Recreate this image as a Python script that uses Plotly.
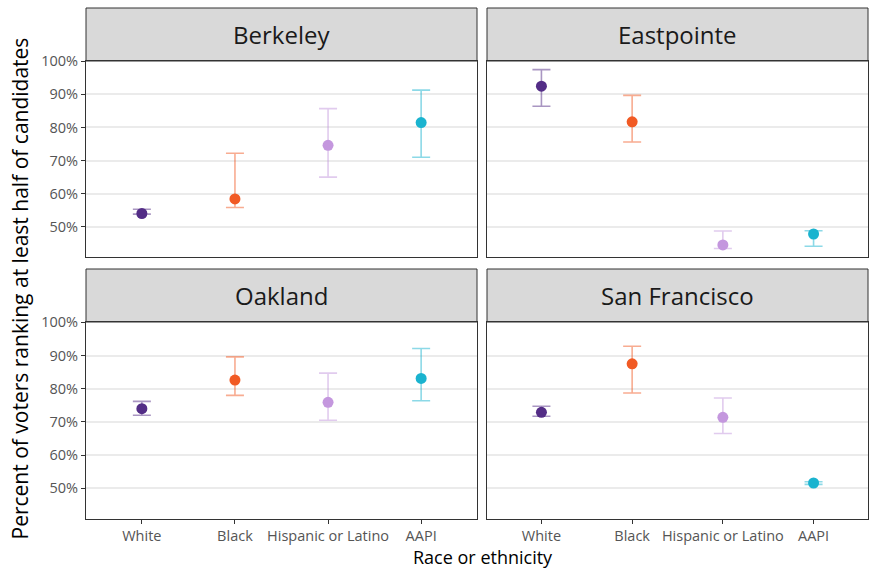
import plotly.graph_objects as go

# Survey estimates with confidence intervals, by city and race/ethnicity (percent)
cities = ["Berkeley", "Eastpointe", "Oakland", "San Francisco"]
races = ["White", "Black", "Hispanic or Latino", "AAPI"]

estimate = {
    "Berkeley":      [54.0, 58.4, 74.6, 81.5],
    "Eastpointe":    [92.5, 81.7, 44.5, 47.8],
    "Oakland":       [74.0, 82.6, 75.9, 83.1],
    "San Francisco": [72.9, 87.5, 71.4, 51.6],
}
lower = {
    "Berkeley":      [53.8, 55.8, 65.0, 71.0],
    "Eastpointe":    [86.4, 75.6, 43.4, 44.1],
    "Oakland":       [72.0, 78.0, 70.5, 76.4],
    "San Francisco": [71.7, 78.7, 66.5, 51.2],
}
upper = {
    "Berkeley":      [55.3, 72.2, 85.7, 91.3],
    "Eastpointe":    [97.5, 89.7, 48.7, 48.8],
    "Oakland":       [76.2, 89.6, 84.7, 92.1],
    "San Francisco": [74.7, 92.8, 77.2, 52.0],
}
y_ticks = [50, 60, 70, 80, 90, 100]

point_colors = ["#532D86", "#F15A24", "#C497DE", "#1AB3CF"]
bar_colors = ["rgba(83,45,134,0.5)", "rgba(241,90,36,0.5)",
              "rgba(196,151,222,0.5)", "rgba(26,179,207,0.5)"]

FONT = "Open Sans, Lato, sans-serif"
W, H = 870, 569

# panel geometry in pixels: (x0, x1, y_top, y_bottom)
col_x = [(86, 477), (487, 868)]
row_y = [(61, 257), (322, 518.7)]
strip_h = 53

fig = go.Figure()
layout = {}
shapes = []
annotations = []

for i, city in enumerate(cities):
    r, c = divmod(i, 2)
    x0, x1 = col_x[c]
    yt, yb = row_y[r]
    ax_n = "" if i == 0 else str(i + 1)
    xa, ya = "x" + ax_n, "y" + ax_n

    for k, race in enumerate(races):
        est = estimate[city][k]
        fig.add_trace(go.Scatter(
            x=[k], y=[est], xaxis=xa, yaxis=ya, mode="markers",
            marker=dict(color=point_colors[k], size=11),
            error_y=dict(type="data", symmetric=False,
                         array=[upper[city][k] - est],
                         arrayminus=[est - lower[city][k]],
                         color=bar_colors[k], thickness=1.6, width=9),
            showlegend=False, hoverinfo="skip",
        ))

    layout["xaxis" + ax_n] = dict(
        domain=[x0 / W, x1 / W], anchor=ya, range=[-0.6, 3.6],
        tickmode="array", tickvals=list(range(4)),
        ticktext=races if r == 1 else [""] * 4,
        showticklabels=(r == 1), ticks="outside" if r == 1 else "",
        ticklen=4, tickcolor="#333333", tickwidth=1,
        showgrid=False, zeroline=False, automargin=False,
        showline=True, linecolor="#333333", linewidth=1, mirror=True,
        tickfont=dict(family=FONT, size=14.5, color="#555555"),
        fixedrange=True,
    )
    layout["yaxis" + ax_n] = dict(
        domain=[1 - yb / H, 1 - yt / H], anchor=xa, range=[40.85, 100.1],
        tickmode="array", tickvals=y_ticks,
        ticktext=[f"{v}%" for v in y_ticks],
        showticklabels=(c == 0), ticks="outside" if c == 0 else "",
        ticklen=4, tickcolor="#333333", tickwidth=1,
        showgrid=True, gridcolor="#EBEBEB", gridwidth=1.5,
        zeroline=False, automargin=False,
        showline=True, linecolor="#333333", linewidth=1, mirror=True,
        tickfont=dict(family=FONT, size=14.5, color="#555555"),
        fixedrange=True,
    )

    # facet strip
    shapes.append(dict(
        type="rect", xref="paper", yref="paper",
        x0=x0 / W, x1=x1 / W, y0=1 - yt / H, y1=1 - (yt - strip_h) / H,
        fillcolor="#D9D9D9", line=dict(color="#333333", width=1), layer="below",
    ))
    annotations.append(dict(
        text=city, xref="paper", yref="paper",
        x=(x0 + x1) / 2 / W, y=1 - (yt - strip_h / 2) / H,
        xanchor="center", yanchor="middle", showarrow=False,
        font=dict(family=FONT, size=24, color="#1A1A1A"),
    ))

annotations.append(dict(
    text="Race or ethnicity", xref="paper", yref="paper",
    x=483 / W, y=1 - 557 / H, xanchor="center", yanchor="middle",
    showarrow=False, font=dict(family=FONT, size=18, color="#000000"),
))
annotations.append(dict(
    text="Percent of voters ranking at least half of candidates",
    xref="paper", yref="paper", x=20 / W, y=1 - 288.5 / H,
    xanchor="center", yanchor="middle", textangle=-90, showarrow=False,
    font=dict(family=FONT, size=21, color="#000000"),
))

fig.update_layout(
    width=W, height=H, margin=dict(l=0, r=0, t=0, b=0, autoexpand=False),
    paper_bgcolor="white", plot_bgcolor="white",
    shapes=shapes, annotations=annotations, **layout,
)

fig.write_html("out.html")
